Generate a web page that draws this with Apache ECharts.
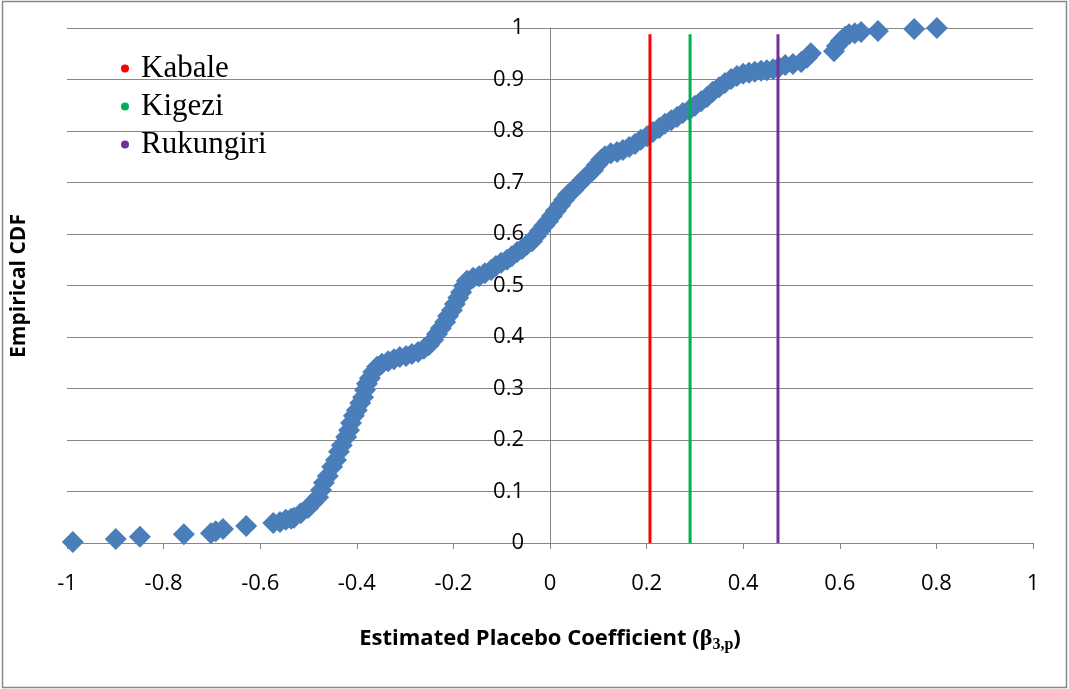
<!DOCTYPE html>
<html>
<head>
<meta charset="utf-8">
<script src="https://cdn.jsdelivr.net/npm/echarts@6/dist/echarts.min.js"></script>
<style>
  html, body { margin: 0; padding: 0; background: #fff; }
  #chart { width: 1069px; height: 689px; }
</style>
</head>
<body>
<div id="chart"></div>
<script>
// placebo coefficient estimates (sorted) and their empirical CDF
const placeboX = [
  -0.988, -0.899, -0.849, -0.758, -0.702, -0.692, -0.677, -0.629, -0.573, -0.559, -0.547, -0.536,
  -0.530, -0.516, -0.501, -0.491, -0.480, -0.474, -0.468, -0.460, -0.451, -0.443, -0.437, -0.431,
  -0.422, -0.416, -0.412, -0.406, -0.400, -0.393, -0.387, -0.383, -0.379, -0.373, -0.366, -0.358,
  -0.348, -0.335, -0.323, -0.311, -0.298, -0.286, -0.273, -0.261, -0.251, -0.242, -0.234, -0.226,
  -0.217, -0.211, -0.203, -0.197, -0.190, -0.184, -0.178, -0.172, -0.159, -0.147, -0.135, -0.122,
  -0.112, -0.101, -0.089, -0.079, -0.068, -0.058, -0.048, -0.037, -0.029, -0.021, -0.012, -0.004,
  0.004, 0.012, 0.021, 0.029, 0.037, 0.048, 0.058, 0.068, 0.079, 0.089, 0.097, 0.106,
  0.114, 0.126, 0.139, 0.151, 0.164, 0.176, 0.188, 0.201, 0.213, 0.226, 0.238, 0.251,
  0.263, 0.275, 0.288, 0.300, 0.313, 0.325, 0.337, 0.350, 0.362, 0.375, 0.387, 0.400,
  0.412, 0.424, 0.437, 0.449, 0.462, 0.474, 0.487, 0.503, 0.520, 0.532, 0.540, 0.588,
  0.594, 0.602, 0.611, 0.619, 0.631, 0.644, 0.679, 0.754, 0.801
];
const placeboCdf = [
  0.002, 0.008, 0.012, 0.017, 0.019, 0.023, 0.027, 0.033, 0.039, 0.041, 0.045, 0.047,
  0.049, 0.058, 0.068, 0.078, 0.089, 0.103, 0.117, 0.130, 0.148, 0.161, 0.177, 0.190,
  0.206, 0.219, 0.233, 0.247, 0.258, 0.272, 0.283, 0.297, 0.309, 0.320, 0.332, 0.342,
  0.348, 0.353, 0.357, 0.361, 0.363, 0.367, 0.371, 0.377, 0.384, 0.394, 0.406, 0.417,
  0.429, 0.441, 0.452, 0.464, 0.476, 0.487, 0.499, 0.509, 0.515, 0.518, 0.524, 0.530,
  0.538, 0.544, 0.550, 0.557, 0.565, 0.571, 0.579, 0.586, 0.596, 0.606, 0.616, 0.625,
  0.635, 0.645, 0.656, 0.666, 0.676, 0.685, 0.695, 0.705, 0.715, 0.724, 0.734, 0.744,
  0.751, 0.757, 0.759, 0.763, 0.769, 0.775, 0.783, 0.790, 0.798, 0.806, 0.814, 0.821,
  0.827, 0.835, 0.841, 0.849, 0.858, 0.866, 0.876, 0.885, 0.893, 0.901, 0.907, 0.911,
  0.913, 0.915, 0.917, 0.918, 0.920, 0.924, 0.928, 0.930, 0.934, 0.942, 0.951, 0.955,
  0.965, 0.975, 0.983, 0.988, 0.990, 0.992, 0.994, 0.998, 1.000
];

// actual district estimates (vertical lines)
const districtNames = ['Kabale', 'Kigezi', 'Rukungiri'];
const districtCoef = [0.207, 0.290, 0.472];
const lineBottom = 0;
const lineTop = 0.988;
const districtColors = ['#ff0000', '#00b050', '#7030a0'];

const chart = echarts.init(document.getElementById('chart'));

const scatterData = placeboX.map((x, i) => [x, placeboCdf[i]]);

const lineSeries = districtNames.map((name, i) => ({
  name: name,
  type: 'line',
  data: [[districtCoef[i], lineBottom], [districtCoef[i], lineTop]],
  showSymbol: false,
  symbol: 'circle',
  lineStyle: { color: districtColors[i], width: 3 },
  itemStyle: { color: districtColors[i] },
  silent: true,
  z: 3,
}));

const gridLeft = 67, gridRight = 36;
// y axis sits at x = 0, i.e. halfway across the plot
const yAxisShift = -(1069 - gridLeft - gridRight) / 2;

const option = {
  animation: false,
  backgroundColor: '#fff',
  grid: { left: gridLeft, right: gridRight, top: 28, bottom: 146 },
  legend: {
    data: districtNames,
    orient: 'vertical',
    left: 116,
    top: 48,
    icon: 'circle',
    itemWidth: 22,
    itemHeight: 8,
    itemGap: 7,
    textStyle: { fontFamily: 'Liberation Serif', fontSize: 31, color: '#000', lineHeight: 31 },
  },
  xAxis: {
    type: 'value',
    min: -1,
    max: 1,
    interval: 0.2,
    axisLine: { onZero: false, lineStyle: { color: '#868686', width: 1 } },
    axisTick: { show: true, length: 6, lineStyle: { color: '#868686' } },
    axisLabel: { margin: 30, color: '#000', fontFamily: 'Open Sans', fontSize: 22 },
    splitLine: { show: false },
    name: '{b|Estimated Placebo Coefficient (}{g|β}{s|3,p}{b|)}',
    nameLocation: 'middle',
    nameGap: 82,
    nameTextStyle: {
      rich: {
        b: { fontFamily: 'Open Sans', fontWeight: 'bold', fontSize: 22, color: '#000' },
        g: { fontFamily: 'Liberation Serif', fontWeight: 'bold', fontSize: 24, color: '#000' },
        s: { fontFamily: 'Liberation Serif', fontWeight: 'bold', fontSize: 16, color: '#000', padding: [12, 0, 0, 0] },
      },
    },
  },
  yAxis: {
    type: 'value',
    min: 0,
    max: 1,
    interval: 0.1,
    offset: yAxisShift,
    axisLine: { show: true, onZero: false, lineStyle: { color: '#868686', width: 1 } },
    axisTick: { show: true, length: 6, lineStyle: { color: '#868686' } },
    axisLabel: { margin: 26, color: '#000', fontFamily: 'Open Sans', fontSize: 22 },
    splitLine: { show: true, lineStyle: { color: '#868686', width: 1 } },
  },
  graphic: [
    {
      type: 'rect',
      shape: { x: 2.5, y: 1.5, width: 1064, height: 686 },
      style: { fill: 'none', stroke: '#898989', lineWidth: 1.5 },
      silent: true,
      z: -1,
    },
    {
      type: 'text',
      x: 19,
      y: 286,
      rotation: Math.PI / 2,
      style: {
        text: 'Empirical CDF',
        font: 'bold 21px "Open Sans"',
        fill: '#000',
        textAlign: 'center',
        textVerticalAlign: 'middle',
      },
    },
  ],
  series: [
    {
      name: 'placebo',
      type: 'scatter',
      data: scatterData,
      symbol: 'diamond',
      symbolSize: 22,
      itemStyle: { color: '#4a7ebb', opacity: 1 },
      silent: true,
      z: 2,
    },
  ].concat(lineSeries),
};

chart.setOption(option);
</script>
</body>
</html>
